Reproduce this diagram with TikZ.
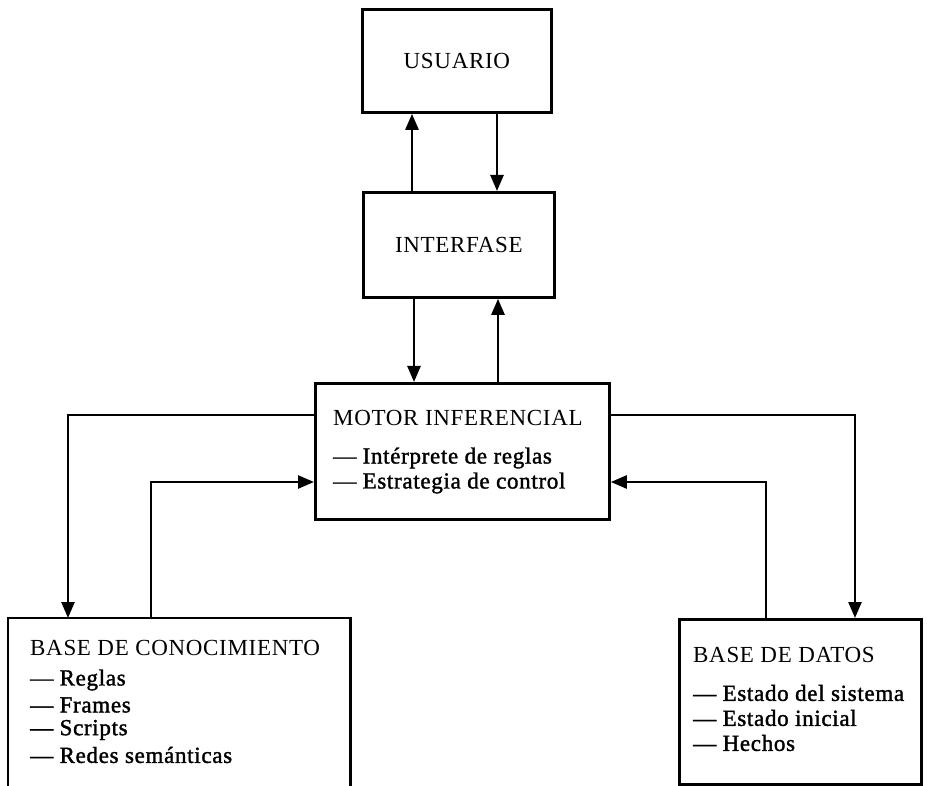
\documentclass[tikz,border=0pt]{standalone}
\usepackage{fontspec}
\setmainfont{Liberation Serif}[Ligatures=TeX, LetterSpace=3]
\newfontfamily\itemfont{Liberation Serif}[Ligatures=TeX, LetterSpace=3, FakeBold=1.5]
\usetikzlibrary{arrows.meta}
\begin{document}
\begin{tikzpicture}[x=1pt,y=-1pt,
  box/.style={draw, line width=2.8pt, inner sep=0pt, anchor=north west},
  frame/.style={inner sep=0pt, anchor=north west},
  lbl/.style={font=\fontsize{23}{26}\selectfont, inner sep=0pt},
  head/.style={lbl, anchor=west},
  item/.style={lbl, anchor=west, font=\fontsize{23}{26}\itemfont},
  link/.style={line width=2.5pt, -{Triangle[length=16pt,width=13pt]}}]
\useasboundingbox (0,0) rectangle (927,786);

% blocks
\node[box, minimum width=189pt, minimum height=103pt] (usr) at (361,8) {};
\node[lbl] (usrt) at (usr.center) {USUARIO};

\node[box, minimum width=191pt, minimum height=105pt] (itf) at (362,191) {};
\node[lbl] (itft) at (itf.center) {INTERFASE};

\node[box, minimum width=294pt, minimum height=136pt] (mot) at (314,382) {};
\node[head] (mott) at (333,418) {MOTOR INFERENCIAL};
\node[item] (mot1) at (333,458) {— Intérprete de reglas};
\node[item] (mot2) at (333,483) {— Estrategia de control};

% knowledge base: its frame runs off the bottom edge
\node[frame, minimum width=342pt, minimum height=168pt] (bc) at (8,618) {};
\draw[line width=2.8pt] (bc.south west) -- (bc.north west) -- (bc.north east) -- (bc.south east);
\node[head] (bct) at (30,648) {BASE DE CONOCIMIENTO};
\node[item] (bc1) at (30,680) {— Reglas};
\node[item] (bc2) at (30,705) {— Frames};
\node[item] (bc3) at (30,730) {— Scripts};
\node[item] (bc4) at (30,755) {— Redes semánticas};

\node[box, minimum width=242pt, minimum height=165pt] (bd) at (678,618) {};
\node[head] (bdt) at (693,655) {BASE DE DATOS};
\node[item] (bd1) at (693,693) {— Estado del sistema};
\node[item] (bd2) at (693,718) {— Estado inicial};
\node[item] (bd3) at (693,743) {— Hechos};

% connector tracks
\coordinate (xa) at (412,0);
\coordinate (xb) at (497,0);
\coordinate (xc) at (414,0);
\coordinate (xd) at (498,0);
\coordinate (xl) at (68,0);
\coordinate (xlr) at (151,0);
\coordinate (xr) at (855,0);
\coordinate (xrr) at (766,0);
\coordinate (yt) at (0,415);
\coordinate (yb) at (0,482);

\draw[link] (itf.north -| xa) -- (usr.south -| xa);
\draw[link] (usr.south -| xb) -- (itf.north -| xb);
\draw[link] (itf.south -| xc) -- (mot.north -| xc);
\draw[link] (mot.north -| xd) -- (itf.south -| xd);

\draw[link] (mot.west |- yt) -| (bc.north -| xl);
\draw[link] (bc.north -| xlr) |- (mot.west |- yb);
\draw[link] (mot.east |- yt) -| (bd.north -| xr);
\draw[link] (bd.north -| xrr) |- (mot.east |- yb);
\end{tikzpicture}
\end{document}
